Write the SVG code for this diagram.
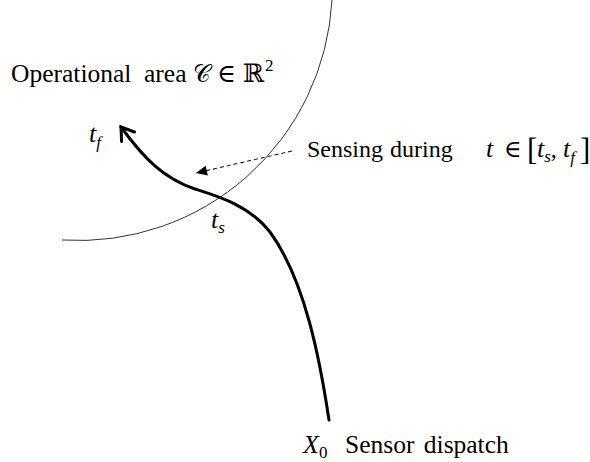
<svg xmlns="http://www.w3.org/2000/svg" width="590" height="462" viewBox="0 0 590 462">
<style>
.lbl{font-family:"Liberation Serif","Times New Roman",serif;font-size:25.5px;fill:#000;word-spacing:3px}
.m{font-family:"Liberation Serif","DejaVu Serif",serif;font-style:italic;font-size:26px}
.scr{font-family:"DejaVu Serif","DejaVu Sans","Liberation Serif",serif}
.sym{font-family:"DejaVu Serif","Liberation Serif",serif;font-style:normal}
.sub{font-size:17px}
.area{fill:none;stroke:#333;stroke-width:1}
.traj{fill:none;stroke:#000;stroke-width:3;stroke-linecap:round}
.dash{fill:none;stroke:#222;stroke-width:1.1;stroke-dasharray:4 3}
</style>
<defs>
<marker id="open" markerUnits="userSpaceOnUse" markerWidth="30" markerHeight="30" refX="15" refY="15" orient="auto" overflow="visible">
<path d="M3 7 L15 15 L3 23" fill="none" stroke="#000" stroke-width="3" stroke-linecap="round" stroke-linejoin="miter"/>
</marker>
<marker id="tri" markerUnits="userSpaceOnUse" markerWidth="14" markerHeight="12" refX="11" refY="6" orient="auto" overflow="visible">
<path d="M0 1 L11 6 L0 11 Z" fill="#000"/>
</marker>
</defs>
<g id="operational-area">
<path class="area" d="M 332 0 A 254 254 0 0 1 62 240"/>
<text class="lbl" x="11" y="82">Operational<tspan x="144">area</tspan><tspan class="scr" x="193" style="font-size:24px">𝒞</tspan><tspan class="sym" x="217">∈</tspan><tspan class="sym" x="243">ℝ</tspan><tspan class="sub" x="265" dy="-11">2</tspan></text>
</g>
<g id="connectors">
<path id="trajectory" class="traj" d="M 329 420 C 320 360, 305 280, 270 232 C 250 206, 220 197, 195 189 C 165 179, 145 160, 121 127" marker-end="url(#open)"/>
<path id="sensing-pointer" class="dash" d="M 292 151 L 196 173" marker-end="url(#tri)"/>
</g>
<g id="tf-label">
<text class="lbl m" x="89" y="142">t<tspan class="sub" dy="6">f</tspan></text>
</g>
<g id="ts-label">
<text class="lbl m" x="211" y="228">t<tspan class="sub" dy="5">s</tspan></text>
</g>
<g id="sensing-label">
<text class="lbl" x="307" y="157" style="font-size:24px">Sensing<tspan x="390">during</tspan><tspan class="m" x="486">t</tspan><tspan class="sym" x="504">∈</tspan><tspan x="527" style="font-size:31px" dy="3">[</tspan><tspan class="m" x="537" dy="-3">t</tspan><tspan class="m sub" dy="5">s</tspan><tspan dy="-5">,</tspan><tspan class="m" x="563">t</tspan><tspan class="m sub" dy="6">f</tspan><tspan x="580" style="font-size:31px" dy="-3">]</tspan></text>
</g>
<g id="dispatch-label">
<text class="lbl" x="303" y="453"><tspan class="m">X</tspan><tspan class="sub" dy="5">0</tspan><tspan x="345" dy="-5">Sensor dispatch</tspan></text>
</g>
</svg>
